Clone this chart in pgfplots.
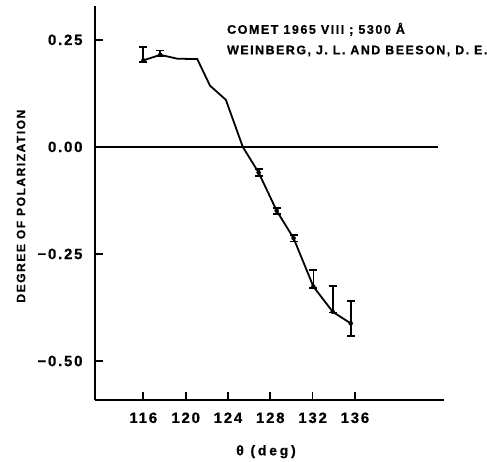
\documentclass[border=0pt]{standalone}
\usepackage{fontspec}
\setmainfont{Liberation Sans}
\newfontfamily\tickf{Liberation Sans}[LetterSpace=12, BoldFeatures={FakeBold=0.6}]
\newfontfamily\annf{Liberation Sans}[LetterSpace=12, BoldFeatures={FakeBold=0.6}]
\newfontfamily\xlabf{Liberation Sans}[LetterSpace=20, BoldFeatures={FakeBold=0.6}]
\usepackage{pgfplots}
\pgfplotsset{compat=1.18}
\begin{document}
\begin{tikzpicture}
\useasboundingbox (-95bp,-62bp) rectangle (392bp,400bp);
\begin{axis}[
  scale only axis,
  width=349bp, height=394bp,
  xmin=111.43, xmax=144.42,
  ymin=-0.591, ymax=0.329,
  axis x line=bottom, axis y line=left,
  axis line style={-, line width=1.7bp},
  tick align=inside,
  major tick length=8bp,
  tick style={line width=1.7bp, black},
  xtick={116,120,124,128,132,136},
  ytick={-0.5,-0.25,0,0.25},
  yticklabels={−0.50,−0.25,0.00,0.25},
  /pgf/number format/assume math mode=true,
  ticklabel style={font=\tickf\bfseries\fontsize{15}{17}\selectfont},
  xticklabel style={yshift=-9bp},
  yticklabel style={xshift=-9bp},
  xlabel={θ (deg)},
  ylabel={DEGREE OF POLARIZATION},
  xlabel style={font=\xlabf\bfseries\fontsize{14}{16}\selectfont, at={(axis description cs:0.49,0)}, anchor=center, yshift=-51.7bp},
  ylabel style={font=\annf\bfseries\fontsize{12.2}{14}\selectfont, at={(axis description cs:0,0.492)}, anchor=center, yshift=74bp},
  clip=false,
]
% zero line
\addplot[black, line width=1.3bp] coordinates {(111.43,0) (143.85,0)};
% polarization curve
\addplot[black, line width=1.8bp, mark=none] coordinates {
  (116,0.202) (117.6,0.215) (119.2,0.206) (121.1,0.205) (122.3,0.143)
  (123.8,0.110) (125.4,0.0) (126.9,-0.060) (128.6,-0.149) (130.2,-0.213)
  (132.07,-0.326) (133.9,-0.385) (135.6,-0.412)
};
% error bars
\addplot[only marks, mark=none,
  error bars/.cd, y dir=both, y explicit,
  error bar style={draw=black, line width=1.7bp},
  error mark options={rotate=90, mark size=4bp, line width=1.7bp, black}]
  coordinates {
  (116,0.202) += (0,0.031) -= (0,0.004)
  (117.6,0.215) += (0,0.010) -= (0,0.002)
  (126.9,-0.060) += (0,0.008) -= (0,0.008)
  (128.6,-0.149) += (0,0.007) -= (0,0.008)
  (130.2,-0.213) += (0,0.007) -= (0,0.008)
  (132.07,-0.326) += (0,0.039) -= (0,0.003)
  (133.9,-0.385) += (0,0.061) -= (0,0.002)
  (135.6,-0.412) += (0,0.052) -= (0,0.030)
};
\node[anchor=west, font=\annf\bfseries\fontsize{12.6}{15}\selectfont, inner sep=0pt] at (axis description cs:0.378,0.941) {COMET 1965 VIII ; 5300 Å};
\node[anchor=west, font=\annf\bfseries\fontsize{12.5}{15}\selectfont, inner sep=0pt] at (axis description cs:0.378,0.886) {WEINBERG, J. L. AND BEESON, D. E.};
\end{axis}
\end{tikzpicture}
\end{document}
